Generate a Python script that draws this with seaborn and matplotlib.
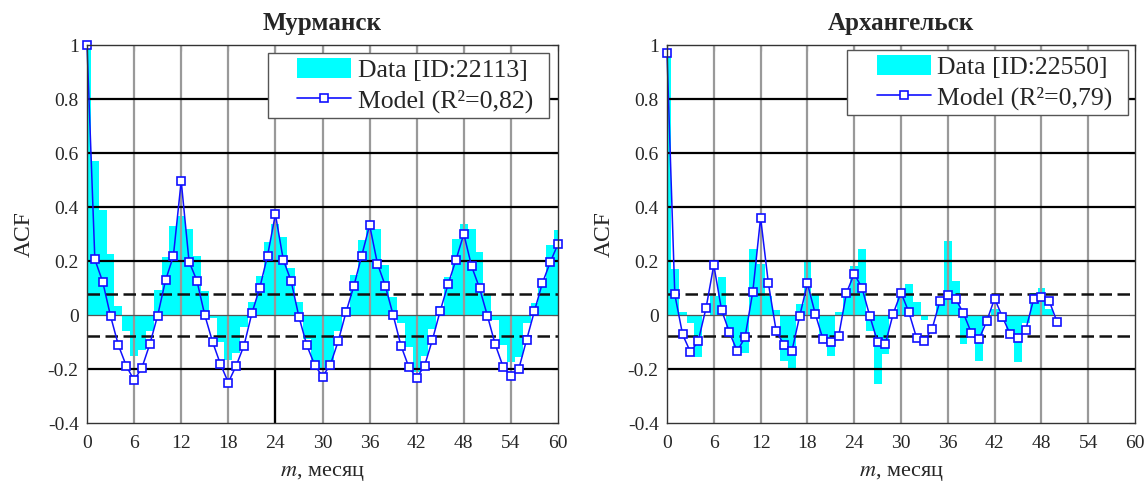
import numpy as np
import pandas as pd
import seaborn as sns
import matplotlib
matplotlib.use("Agg")
import matplotlib.pyplot as plt
from matplotlib.patches import Patch
from matplotlib.lines import Line2D
from matplotlib.legend_handler import HandlerPatch, HandlerLine2D

# ---------------- data ----------------
lags_m = list(range(61))
data_m = [1.0, 0.57, 0.39, 0.225, 0.035, -0.058, -0.15, -0.13, -0.058, 0.093,
          0.216, 0.33, 0.366, 0.318, 0.218, 0.089, -0.012, -0.10, -0.165, -0.14,
          -0.043, 0.048, 0.144, 0.27, 0.337, 0.29, 0.174, 0.05, -0.09, -0.17,
          -0.205, -0.17, -0.06, 0.03, 0.15, 0.276, 0.35, 0.32, 0.185, 0.068,
          -0.03, -0.12, -0.21, -0.15, -0.05, 0.035, 0.14, 0.28, 0.336, 0.32,
          0.235, 0.075, -0.02, -0.11, -0.173, -0.155, -0.03, 0.043, 0.117, 0.26,
          0.315]
model_m = [1.0, 0.206, 0.123, -0.004, -0.112, -0.188, -0.242, -0.195, -0.108, -0.002,
           0.128, 0.218, 0.496, 0.198, 0.127, 0.0, -0.10, -0.182, -0.25, -0.188,
           -0.113, 0.006, 0.10, 0.22, 0.373, 0.205, 0.126, -0.007, -0.112, -0.185,
           -0.228, -0.184, -0.097, 0.011, 0.108, 0.22, 0.333, 0.19, 0.108, 0.0,
           -0.114, -0.193, -0.232, -0.188, -0.092, 0.016, 0.114, 0.204, 0.30, 0.18,
           0.10, -0.002, -0.109, -0.191, -0.225, -0.20, -0.092, 0.015, 0.117, 0.195,
           0.263]

lags_a = list(range(51))
data_a = [0.97, 0.17, 0.01, -0.03, -0.156, 0.0, 0.07, 0.14, -0.06, -0.12,
          -0.14, 0.245, 0.19, 0.07, 0.02, -0.17, -0.2, 0.04, 0.195, 0.078,
          -0.1, -0.15, 0.012, 0.083, 0.18, 0.245, -0.058, -0.255, -0.145, 0.0,
          0.09, 0.115, 0.05, -0.02, -0.005, 0.04, 0.275, 0.127, -0.107, -0.064,
          -0.17, -0.04, 0.022, -0.027, -0.06, -0.174, -0.03, 0.08, 0.1, 0.022,
          0.0]
model_a = [0.97, 0.076, -0.072, -0.137, -0.097, 0.025, 0.185, 0.018, -0.064, -0.134,
           -0.083, 0.086, 0.36, 0.117, -0.06, -0.11, -0.135, -0.005, 0.117, 0.005,
           -0.09, -0.1, -0.079, 0.081, 0.153, 0.1, -0.004, -0.1, -0.106, 0.005,
           0.083, 0.011, -0.085, -0.096, -0.05, 0.053, 0.075, 0.06, 0.007, -0.065,
           -0.09, -0.022, 0.061, -0.007, -0.071, -0.085, -0.054, 0.058, 0.066, 0.052,
           -0.025]

titles = ["Мурманск", "Архангельск"]
data_labels = ["Data [ID:22113]", "Data [ID:22550]"]
model_labels = ["Model (R²=0,82)", "Model (R²=0,79)"]
x_ticks = list(range(0, 61, 6))
y_ticks = [-0.4, -0.2, 0, 0.2, 0.4, 0.6, 0.8, 1.0]
y_ticklabels = ["-0.4", "-0.2", "0", "0.2", "0.4", "0.6", "0.8", "1"]
conf = 0.079

# ---------------- style ----------------
sns.set_theme(style="white")
plt.rcParams["font.family"] = ["Liberation Serif", "DejaVu Serif"]
plt.rcParams["mathtext.fontset"] = "stix"

CYAN = "#00ffff"
BLUE = "#1010ff"
SHIFT = 0.31  # fraction of the handle area left blank (left padding in legend)


class ShiftPatch(HandlerPatch):
    def create_artists(self, legend, orig_handle, xdescent, ydescent, width,
                       height, fontsize, trans):
        s = SHIFT * width
        return super().create_artists(legend, orig_handle, xdescent - s,
                                      ydescent, width - s, height, fontsize, trans)


class ShiftLine(HandlerLine2D):
    def create_artists(self, legend, orig_handle, xdescent, ydescent, width,
                       height, fontsize, trans):
        s = SHIFT * width
        return super().create_artists(legend, orig_handle, xdescent - s,
                                      ydescent, width - s, height, fontsize, trans)


fig = plt.figure(figsize=(11.45, 4.83), dpi=100)
ax1 = fig.add_axes([87 / 1145, 60 / 483, 471 / 1145, 378 / 483])
ax2 = fig.add_axes([667 / 1145, 60 / 483, 468 / 1145, 378 / 483])


def panel(ax, lags, data, model, title, dlabel, mlabel, leg_box):
    df = pd.DataFrame({"lag": lags, "acf": data})
    sns.barplot(data=df, x="lag", y="acf", native_scale=True, width=1,
                color=CYAN, saturation=1, linewidth=0, errorbar=None,
                ax=ax, zorder=1)
    for v in x_ticks[1:-1]:
        ax.axvline(v, color="#999999", lw=1.6, zorder=2)
    for h in [-0.2, 0.2, 0.4, 0.6, 0.8]:
        ax.axhline(h, color="black", lw=1.6, zorder=2)
    ax.axhline(0, color="#555555", lw=0.9, zorder=2)
    for h in [conf, -conf]:
        ax.axhline(h, color="#111111", lw=1.8, dashes=(5, 2.2), zorder=3)

    dm = pd.DataFrame({"lag": lags, "acf": model})
    sns.lineplot(data=dm, x="lag", y="acf", color=BLUE, lw=1.1, marker="s",
                 markersize=6, markerfacecolor="white", markeredgecolor=BLUE,
                 markeredgewidth=1.2, ax=ax, zorder=5, clip_on=False)

    ax.set_xlim(0, 60)
    ax.set_ylim(-0.4, 1.0)
    ax.set_xticks(x_ticks)
    ax.set_xticklabels([str(t) for t in x_ticks])
    ax.set_yticks(y_ticks)
    ax.set_yticklabels(y_ticklabels)
    ax.tick_params(direction="in", top=True, right=True, length=4, width=0.8,
                   labelsize=14, color="#333333")
    ax.tick_params(axis="x", pad=9)
    ax.tick_params(axis="y", pad=6)
    for s in ax.spines.values():
        s.set_color("#333333")
        s.set_linewidth(1.0)
        s.set_zorder(6)

    ax.set_title(title, fontsize=18, fontweight="bold", pad=11)
    ax.set_ylabel("ACF", fontsize=17, labelpad=9)
    ax.set_xlabel("$m$, месяц", fontsize=16, labelpad=8)

    handles = [Patch(facecolor=CYAN, edgecolor="none"),
               Line2D([], [], color=BLUE, lw=1.2, marker="s", ms=6,
                      mfc="white", mec=BLUE, mew=1.2)]
    leg = ax.legend(handles, [dlabel, mlabel], loc="upper left",
                    bbox_to_anchor=leg_box, mode="expand",
                    handler_map={Patch: ShiftPatch(), Line2D: ShiftLine()},
                    fontsize=18.5, frameon=True, fancybox=False, framealpha=1,
                    edgecolor="#555555", handlelength=3.05, handleheight=0.8,
                    borderaxespad=0, borderpad=0.2, labelspacing=0.28,
                    handletextpad=0.24)
    leg.get_frame().set_linewidth(1.0)
    leg.set_zorder(10)


panel(ax1, lags_m, data_m, model_m, titles[0], data_labels[0], model_labels[0],
      (0.384, 0.80, 0.597, 0.179))
panel(ax2, lags_a, data_a, model_a, titles[1], data_labels[1], model_labels[1],
      (0.385, 0.80, 0.600, 0.187))

# small black vertical mark at the bottom of the left panel
ax1.plot([24, 24], [-0.4, -0.205], color="black", lw=1.6, zorder=4)

fig.savefig("out.png", dpi=100)
